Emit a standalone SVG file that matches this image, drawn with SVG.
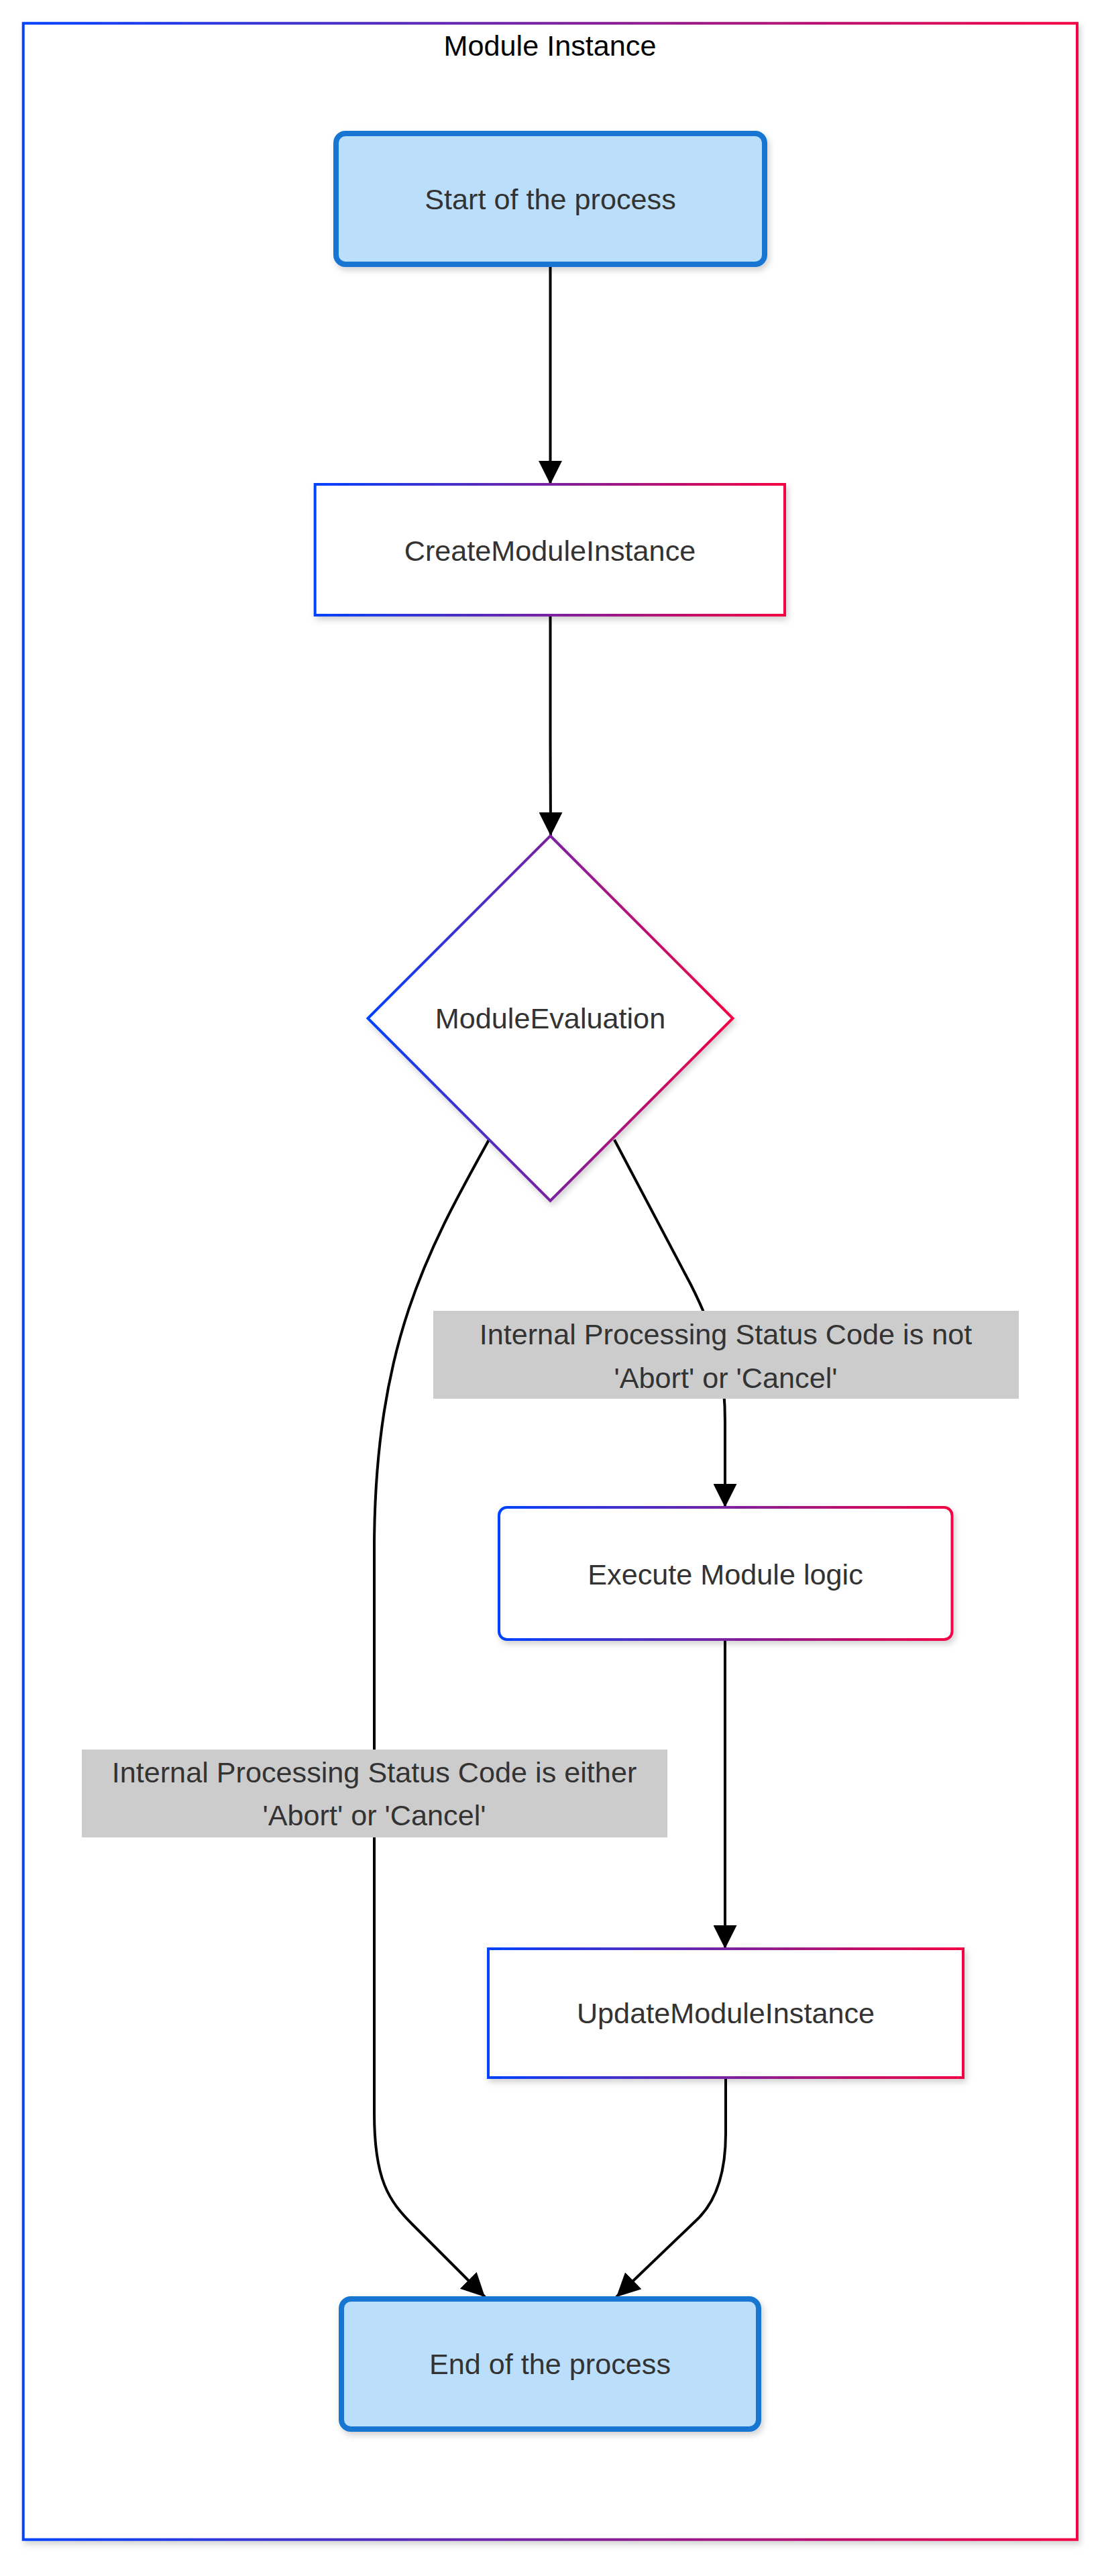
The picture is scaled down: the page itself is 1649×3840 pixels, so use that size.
<svg xmlns="http://www.w3.org/2000/svg" width="1649" height="3840" viewBox="0 0 1649 3840">
<defs>
<linearGradient id="grad" x1="0" y1="0" x2="1" y2="0">
<stop offset="0" stop-color="#0042ff"/>
<stop offset="1" stop-color="#f50042"/>
</linearGradient>
<filter id="shadow" x="-10%" y="-10%" width="120%" height="130%">
<feDropShadow dx="3" dy="5" stdDeviation="5" flood-color="#000" flood-opacity="0.18"/>
</filter>
<marker id="arrow" viewBox="0 0 10 10" refX="10" refY="5" markerUnits="userSpaceOnUse" markerWidth="35" markerHeight="35" orient="auto">
<path d="M0,0 L10,5 L0,10 z" fill="#000"/>
</marker>
</defs>
<style>
.txt{font-family:"Liberation Sans",Arial,Helvetica,sans-serif;font-size:43.2px;fill:#333;text-anchor:middle}
.title{font-family:"Liberation Sans",Arial,Helvetica,sans-serif;font-size:43.2px;fill:#000;text-anchor:middle}
.grad{fill:#fff;stroke:url(#grad);stroke-width:4}
.term{fill:#bbdefb;stroke:#1976d2;stroke-width:8}
.edge{fill:none;stroke:#000;stroke-width:4;marker-end:url(#arrow)}
.lbl{fill:#cccccc}
</style>
<rect width="1649" height="3840" fill="#fff"/>
<g id="cluster-module-instance">
<rect x="34.7" y="34.7" width="1571.3" height="3751" class="grad" filter="url(#shadow)"/>
<text x="820" y="83" class="title">Module Instance</text>
</g>
<g id="connectors">
<path class="edge" d="M820.5,398 L820.5,722"/>
<path class="edge" d="M820.5,917 L820.5,1100 C820.5,1180 821,1200 821,1246"/>
<path class="edge" d="M916,1699 L1030,1915 C1068,1990 1081,2040 1081,2120 L1081,2247"/>
<path class="edge" d="M729,1699 C640,1860 560,2000 558,2300 L558,3150 C558,3250 580,3281 615,3316 L723,3424"/>
<path class="edge" d="M1081,2444 L1081,2905"/>
<path class="edge" d="M1082,3097 L1082,3180 C1082,3235 1069,3280 1040,3308 L919,3424"/>
</g>
<g id="edge-labels">
<g id="label-not-abort">
<rect x="646" y="1954" width="873" height="131" class="lbl"/>
<text x="1082" y="2004" class="txt">Internal Processing Status Code is not</text>
<text x="1082" y="2069" class="txt">'Abort' or 'Cancel'</text>
</g>
<g id="label-abort">
<rect x="122" y="2608" width="873" height="131" class="lbl"/>
<text x="558" y="2657" class="txt">Internal Processing Status Code is either</text>
<text x="558" y="2721" class="txt">'Abort' or 'Cancel'</text>
</g>
</g>
<g id="node-start">
<rect x="501" y="199" width="639" height="195" rx="14" class="term" filter="url(#shadow)"/>
<text x="820.5" y="311.5" class="txt">Start of the process</text>
</g>
<g id="node-create">
<rect x="469.7" y="722" width="700.3" height="195" class="grad" filter="url(#shadow)"/>
<text x="820" y="835.5" class="txt">CreateModuleInstance</text>
</g>
<g id="node-evaluation">
<polygon points="820.5,1246 1092.5,1518 820.5,1790 548.5,1518" class="grad" filter="url(#shadow)"/>
<text x="820.5" y="1533" class="txt">ModuleEvaluation</text>
</g>
<g id="node-execute">
<rect x="744" y="2247" width="675.5" height="197" rx="12" class="grad" filter="url(#shadow)"/>
<text x="1081.5" y="2362" class="txt">Execute Module logic</text>
</g>
<g id="node-update">
<rect x="728" y="2905" width="708" height="192" class="grad" filter="url(#shadow)"/>
<text x="1082" y="3016" class="txt">UpdateModuleInstance</text>
</g>
<g id="node-end">
<rect x="509" y="3427" width="622" height="194" rx="14" class="term" filter="url(#shadow)"/>
<text x="820" y="3539" class="txt">End of the process</text>
</g>
</svg>
